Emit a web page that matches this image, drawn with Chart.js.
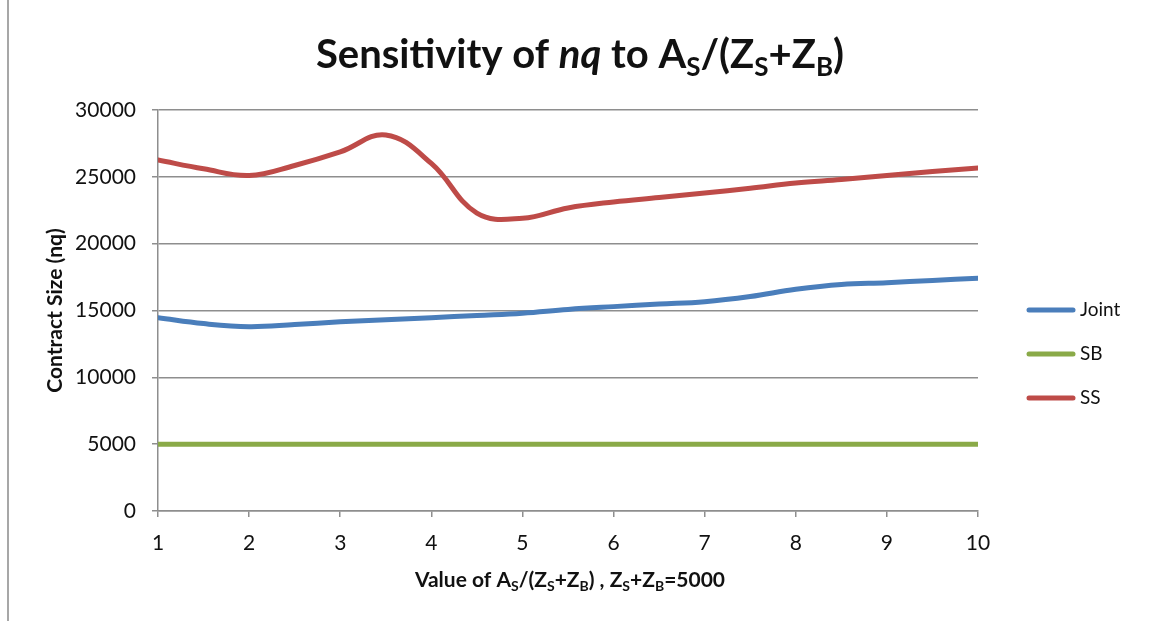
<!DOCTYPE html>
<html>
<head>
<meta charset="utf-8">
<script src="https://cdn.jsdelivr.net/npm/chart.js@4"></script>
<style>
    html, body { margin: 0; padding: 0; background: #fff; }
    #wrap { width: 1152px; height: 621px; position: relative; }
</style>
</head>
<body>
<div id="wrap"><canvas id="chart" width="1152" height="621"></canvas></div>
<script>
const xValues = [1, 1.5, 2, 2.5, 3, 3.5, 4, 4.5, 5, 5.5, 6, 6.5, 7, 7.5, 8, 8.5, 9, 9.5, 10];
const jointValues = [14460, 14020, 13790, 13950, 14150, 14300, 14460, 14630, 14800, 15080, 15290, 15480, 15660, 16050, 16590, 16950, 17080, 17250, 17410];
const sbValues = [5000, 5000, 5000, 5000, 5000, 5000, 5000, 5000, 5000, 5000, 5000, 5000, 5000, 5000, 5000, 5000, 5000, 5000, 5000];
const ssValues = [26260, 25600, 25100, 25850, 26860, 28130, 26000, 22290, 21900, 22670, 23120, 23450, 23790, 24150, 24540, 24800, 25100, 25400, 25660];
const seriesNames = ['Joint', 'SB', 'SS'];
const seriesColors = ['#4A7EBB', '#8AAA48', '#BE4B48'];

const FONT = 'Lato, "Open Sans", sans-serif';
const GRID = '#8e8e8e';

function toPoints(values) {
    return xValues.map((x, i) => ({ x, y: values[i] }));
}

// draws a line of text made of pieces with their own font and vertical shift
function drawRich(ctx, parts, cx, baseline) {
    let total = 0;
    parts.forEach((p) => {
        ctx.font = p[1];
        total += ctx.measureText(p[0]).width;
    });
    let x = cx - total / 2;
    ctx.textAlign = 'left';
    ctx.textBaseline = 'alphabetic';
    parts.forEach((p) => {
        ctx.font = p[1];
        ctx.fillText(p[0], x, baseline + (p[2] || 0));
        x += ctx.measureText(p[0]).width;
    });
}

const decorations = {
    id: 'decorations',
    beforeDraw(chart) {
        const ctx = chart.ctx;
        ctx.save();
        ctx.fillStyle = '#fff';
        ctx.fillRect(0, 0, chart.width, chart.height);
        ctx.strokeStyle = '#8a8a8a';
        ctx.lineWidth = 1.5;
        ctx.beginPath();
        ctx.moveTo(8, 0);
        ctx.lineTo(8, chart.height);
        ctx.stroke();
        ctx.restore();
    },
    afterDraw(chart) {
        const ctx = chart.ctx;
        ctx.save();
        ctx.fillStyle = '#111';

        const tb = 'bold 40px ' + FONT;
        const ti = 'italic bold 40px ' + FONT;
        const ts = 'bold 26px ' + FONT;
        drawRich(ctx, [
            ['Sensitivity of ', tb], ['nq', ti], [' to A', tb], ['S', ts, 8],
            ['/(Z', tb], ['S', ts, 8], ['+Z', tb], ['B', ts, 8], [')', tb],
        ], 580, 68);

        const ab = 'bold 21px ' + FONT;
        const as = 'bold 14px ' + FONT;
        drawRich(ctx, [
            ['Value of A', ab], ['S', as, 4], ['/(Z', ab], ['S', as, 4], ['+Z', ab], ['B', as, 4],
            [') , Z', ab], ['S', as, 4], ['+Z', ab], ['B', as, 4], ['=5000', ab],
        ], 570, 587);

        // legend
        chart.data.datasets.forEach((ds, i) => {
            const y = 310 + i * 44;
            ctx.strokeStyle = ds.borderColor;
            ctx.lineWidth = 5;
            ctx.lineCap = 'round';
            ctx.beginPath();
            ctx.moveTo(1029, y);
            ctx.lineTo(1073, y);
            ctx.stroke();
            ctx.fillStyle = '#111';
            ctx.font = '19px ' + FONT;
            ctx.textAlign = 'left';
            ctx.textBaseline = 'middle';
            ctx.fillText(ds.label, 1080, y);
        });
        ctx.restore();
    },
};

const ctx = document.getElementById('chart').getContext('2d');
new Chart(ctx, {
    type: 'line',
    data: {
        datasets: [jointValues, sbValues, ssValues].map((vals, i) => ({
            label: seriesNames[i],
            data: toPoints(vals),
            borderColor: seriesColors[i],
            backgroundColor: seriesColors[i],
            borderWidth: 5,
            borderCapStyle: 'round',
            pointRadius: 0,
            tension: 0.4,
            fill: false,
        })),
    },
    options: {
        responsive: false,
        animation: false,
        layout: { padding: { left: 10, top: 110, right: 174, bottom: 0 } },
        plugins: {
            legend: { display: false },
            tooltip: { enabled: false },
        },
        scales: {
            x: {
                type: 'linear',
                min: 1,
                max: 10,
                afterFit: (scale) => { scale.height = 110; },
                ticks: {
                    stepSize: 1,
                    padding: 14,
                    color: '#111',
                    font: { family: FONT, size: 21 },
                    callback: (v) => String(v),
                },
                grid: { drawOnChartArea: false, drawTicks: true, tickLength: 6, color: GRID, lineWidth: 1.5 },
                border: { color: GRID, width: 1.5 },
            },
            y: {
                min: 0,
                max: 30000,
                afterFit: (scale) => { scale.width = 148; },
                ticks: {
                    stepSize: 5000,
                    padding: 16,
                    color: '#111',
                    font: { family: FONT, size: 21 },
                    callback: (v) => String(v),
                },
                grid: { color: GRID, lineWidth: 1.5, tickLength: 6 },
                border: { color: GRID, width: 1.5 },
                title: {
                    display: true,
                    text: 'Contract Size (nq)',
                    color: '#111',
                    font: { family: FONT, size: 21, weight: 'bold' },
                    padding: { top: 33, bottom: 0 },
                },
            },
        },
    },
    plugins: [decorations],
});
</script>
</body>
</html>
